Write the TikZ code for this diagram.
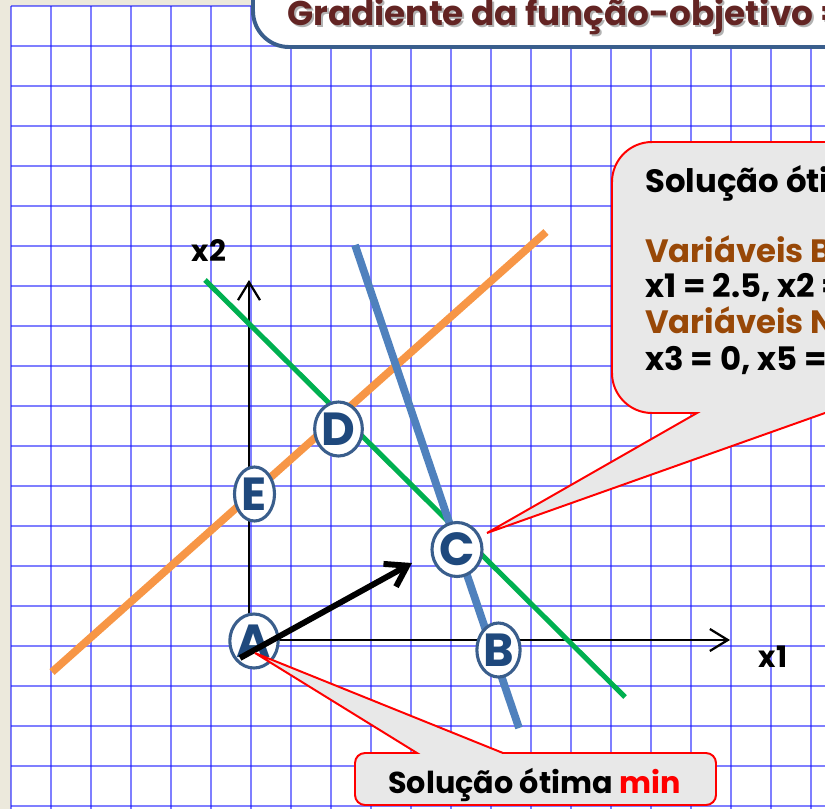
\documentclass[tikz,border=0pt]{standalone}
\usepackage{fontspec}
\setmainfont{Poppins}
\usetikzlibrary{arrows.meta,shapes.geometric}
\definecolor{papel}{HTML}{ECE9DC}
\definecolor{laranja}{HTML}{F79646}
\definecolor{verde}{HTML}{00B050}
\definecolor{azul}{HTML}{4F81BD}
\definecolor{borda}{HTML}{3A5E8C}
\definecolor{letra}{HTML}{1F497D}
\definecolor{vinho}{HTML}{632423}
\definecolor{marrom}{HTML}{984807}
\definecolor{balao}{HTML}{E8E8E8}
\tikzset{>=Stealth,every node/.style={font=\bfseries,inner sep=0pt},grade/.style={draw=blue,draw opacity=.5,line width=1.3pt},
eixo/.style={line width=1.6pt,-{Straight Barb[length=.45cm,width=.55cm]}},reta/.style={line width=5.5pt},
vertice/.style={ellipse,draw=borda,line width=2.2pt,fill=white,minimum width=1cm,minimum height=1.35cm,text=letra,font=\fontsize{33}{33}\selectfont\bfseries},
rotulo/.style={font=\fontsize{21}{21}\selectfont\bfseries},fala/.style={fill=balao,draw=red,line width=1.4pt},
texto/.style={anchor=base west,font=\fontsize{23}{23}\selectfont\bfseries}}
\begin{document}
\begin{tikzpicture}[x=1cm,y=-1cm]
\clip (0,0) rectangle (20.625,20.225);
\fill[papel] (0,0) rectangle (20.625,20.225);\fill[white] (.275,.15) rectangle (20.625,20.225);
\foreach \i in {0,...,20}{\draw[grade] (.275+\i,.15)--(.275+\i,20.225);\draw[grade] (.275,.15+\i)--(20.625,.15+\i);}
\coordinate (O) at (6.225,16);\coordinate (x1fim) at (18.25,16);\coordinate (x2fim) at (6.225,7);
\draw[eixo] (O)--(x1fim);\draw[eixo] (O)--(x2fim);
\node[rotulo] (lx1) at (19.325,16.425){x1};\node[rotulo] (lx2) at (5.225,6.25){x2};
\draw[reta,laranja] (1.3,16.8)--(13.65,5.8);
\draw[reta,verde,line width=3.6pt] (5.125,7)--(15.625,17.425);
\draw[reta,azul] (8.875,6.125)--(12.975,18.2);
\node[vertice] (A) at (6.35,16.025){A};\node[vertice] (B) at (12.4625,16.25){B};\node[vertice] (C) at (11.425,13.7375){C};
\node[vertice] (D) at (8.4625,10.725){D};\node[vertice] (E) at (6.3625,12.35){E};
\coordinate (g0) at (6,16.45);\coordinate (g1) at (10.3,14.075);
\draw[line width=4.2pt,-{Straight Barb[length=.5cm,width=.65cm]}] (g0)--(g1);
\coordinate (pc) at (12.175,13.325);\coordinate (pa) at (6.375,16.325);
\draw[fala] (22,3.55)--(16.3,3.55) arc[start angle=270,end angle=180,radius=1]--(15.3,9.325) arc[start angle=180,end angle=90,radius=1]--(17.425,10.325)--(pc)--(20.625,10.325)--(22,10.325)--cycle;
\node[texto] (sol) at (16.125,4.8){Solução ótima max};
\node[texto,text=marrom] (vb) at (16.125,6.55){Variáveis Básicas};
\node[texto] (xb) at (16.125,7.425){x1 = 2.5, x2 = 2.5};
\node[texto,text=marrom] (vn) at (16.125,8.325){Variáveis Não Básicas};
\node[texto] (xn) at (16.125,9.25){x3 = 0, x5 = 0};
\draw[fala] (10.425,18.825)--(9.125,18.825) arc[start angle=270,end angle=180,radius=.25]--(8.875,19.875) arc[start angle=180,end angle=90,radius=.25]--(17.65,20.125) arc[start angle=90,end angle=0,radius=.25]--(17.9,19.075) arc[start angle=0,end angle=-90,radius=.25]--(12.575,18.825)--(pa)--cycle;
\node[font=\fontsize{21.5}{21.5}\selectfont\bfseries,anchor=base] (min) at (13.36,19.825){Solução ótima \textcolor{red}{min}};
\draw[fill=white,draw=borda,line width=2.8pt] (6.325,-1)--(6.325,.275) arc[start angle=180,end angle=90,radius=.9]--(22,1.175)--(22,-1)--cycle;
\node[anchor=base west,font=\fontsize{24.4}{24.4}\selectfont\bfseries,text=black,opacity=.3] (sombra) at (7.225,.675){Gradiente da função-objetivo =};
\node[anchor=base west,font=\fontsize{24.4}{24.4}\selectfont\bfseries,text=vinho] (tit) at (7.175,.625){Gradiente da função-objetivo =};
\end{tikzpicture}
\end{document}
